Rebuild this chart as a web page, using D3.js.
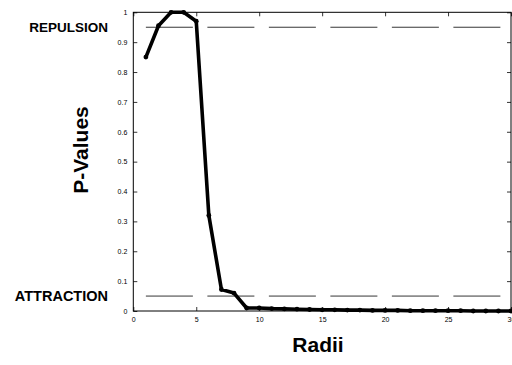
<!DOCTYPE html>
<style>
  body { margin: 0; background: #fff; }
  text { font-family: Arial, "Liberation Sans", sans-serif; }
  .tick text { font-size: 7px; fill: #000; }
  .lbl { font-weight: bold; fill: #000; }
</style>
<svg width="512" height="365"></svg>
<script src="https://d3js.org/d3.v7.min.js"></script>
<script>
  var radii = d3.range(1, 31);
  var pvals = [0.85, 0.955, 1.0, 1.0, 0.97, 0.32, 0.072, 0.06, 0.01, 0.01,
               0.008, 0.007, 0.006, 0.005, 0.004, 0.004, 0.003, 0.003, 0.002, 0.002,
               0.002, 0.001, 0.001, 0.001, 0.001, 0.001, 0, 0, 0, 0];
  var xTicks = [0, 5, 10, 15, 20, 25, 30];
  var yTicks = [0, 0.1, 0.2, 0.3, 0.4, 0.5, 0.6, 0.7, 0.8, 0.9, 1];
  var bounds = [0.95, 0.05];
  var boundLabels = ["REPULSION", "ATTRACTION"];

  var svg = d3.select("svg");
  var m = {left: 133.3, right: 511, top: 12.3, bottom: 311};
  var x = d3.scaleLinear().domain([0, 30]).range([m.left, m.right]);
  var y = d3.scaleLinear().domain([0, 1]).range([m.bottom, m.top]);

  // dashed bounds
  svg.selectAll(".bound")
    .data(bounds)
    .enter().append("line")
      .attr("x1", x(1)).attr("x2", x(30))
      .attr("y1", function(d) { return y(d); })
      .attr("y2", function(d) { return y(d); })
      .attr("stroke", "#000")
      .attr("stroke-width", 0.8)
      .attr("stroke-dasharray", "47,14.5");

  // box
  svg.append("rect")
    .attr("x", m.left).attr("y", m.top)
    .attr("width", m.right - m.left).attr("height", m.bottom - m.top)
    .attr("fill", "none").attr("stroke", "#000").attr("stroke-width", 1);

  svg.append("g").attr("transform", "translate(0," + m.bottom + ")")
    .call(d3.axisBottom(x).tickValues(xTicks).tickSizeInner(-4).tickSizeOuter(0).tickPadding(6));
  svg.append("g").attr("transform", "translate(0," + m.top + ")")
    .call(d3.axisTop(x).tickValues(xTicks).tickSizeInner(-4).tickSizeOuter(0).tickFormat(""));
  svg.append("g").attr("transform", "translate(" + m.left + ",0)")
    .call(d3.axisLeft(y).tickValues(yTicks).tickSizeInner(-4).tickSizeOuter(0).tickPadding(6)
      .tickFormat(function(d) { return d === 0 || d === 1 ? d : d3.format(".1f")(d); }));
  svg.append("g").attr("transform", "translate(" + m.right + ",0)")
    .call(d3.axisRight(y).tickValues(yTicks).tickSizeInner(-4).tickSizeOuter(0).tickFormat(""));
  svg.selectAll(".domain").remove();
  svg.selectAll(".tick line").attr("stroke", "#000").attr("stroke-width", 0.8);

  // data line
  var line = d3.line().x(function(d, i) { return x(radii[i]); }).y(function(d) { return y(d); });
  svg.append("path")
    .datum(pvals)
    .attr("d", line)
    .attr("fill", "none")
    .attr("stroke", "#000")
    .attr("stroke-width", 3.6)
    .attr("stroke-linejoin", "round");
  svg.selectAll(".pt")
    .data(pvals)
    .enter().append("circle")
      .attr("cx", function(d, i) { return x(radii[i]); })
      .attr("cy", function(d) { return y(d); })
      .attr("r", 2.4)
      .attr("fill", "#000");

  // bound labels
  svg.selectAll(".blabel")
    .data(bounds)
    .enter().append("text")
      .attr("class", "lbl")
      .attr("x", 108)
      .attr("y", function(d) { return y(d); })
      .attr("dy", "0.36em")
      .attr("text-anchor", "end")
      .style("font-size", function(d, i) { return i === 0 ? "13.5px" : "14.5px"; })
      .text(function(d, i) { return boundLabels[i]; });

  svg.append("text")
    .attr("class", "lbl")
    .attr("transform", "translate(88,150) rotate(-90)")
    .attr("text-anchor", "middle")
    .style("font-size", "21px")
    .text("P-Values");

  svg.append("text")
    .attr("class", "lbl")
    .attr("x", 318).attr("y", 352)
    .attr("text-anchor", "middle")
    .style("font-size", "21px")
    .text("Radii");
</script>
